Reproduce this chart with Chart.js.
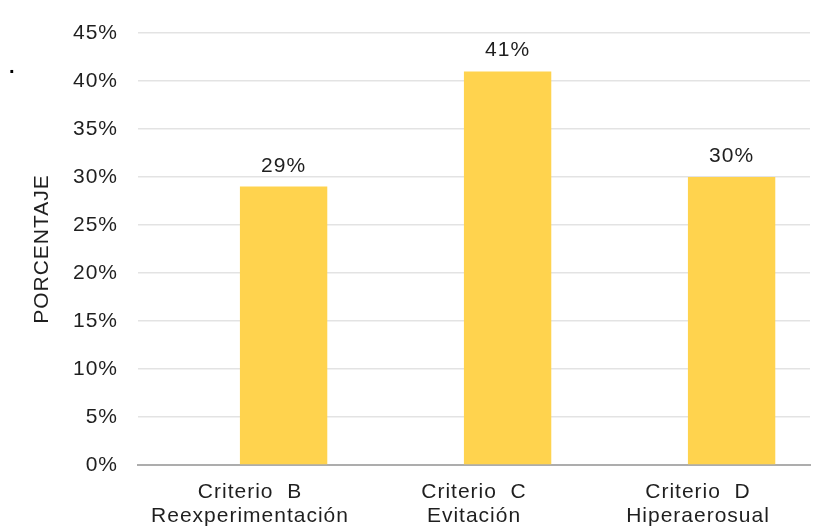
<!DOCTYPE html>
<html>
<head>
<meta charset="utf-8">
<script src="https://cdn.jsdelivr.net/npm/chart.js@4/dist/chart.umd.min.js"></script>
<style>
  html, body { margin: 0; padding: 0; background: #ffffff; }
  #wrap { width: 816px; height: 527px; position: relative; }
</style>
</head>
<body>
<div id="wrap"><canvas id="c" width="816" height="527"></canvas></div>
<script>
// ---- data ----
const categories = [["Criterio  B", "Reexperimentación"], ["Criterio  C", "Evitación"], ["Criterio  D", "Hiperaerosual"]];
const barPositions = [0, 1, 2];
const percentValues = [29, 41, 30];
const yTicks = [0, 5, 10, 15, 20, 25, 30, 35, 40, 45];

const FONT = "'Liberation Sans', Arial, sans-serif";
const TEXT = '#1f1f1f';

const spacingPlugin = {
  id: 'spacing',
  beforeLayout(chart) { chart.ctx.letterSpacing = '1px'; },
  beforeDraw(chart) {
    const ctx = chart.ctx;
    ctx.save();
    ctx.fillStyle = '#ffffff';
    ctx.fillRect(0, 0, chart.width, chart.height);
    ctx.restore();
    ctx.letterSpacing = '1px';
  },
  afterDatasetsDraw(chart) {
    const ctx = chart.ctx;
    const meta = chart.getDatasetMeta(0);
    ctx.save();
    ctx.font = "21px " + FONT;
    ctx.fillStyle = TEXT;
    ctx.textAlign = 'center';
    ctx.textBaseline = 'alphabetic';
    meta.data.forEach((bar, i) => {
      ctx.fillText(percentValues[i] + '%', bar.x, bar.y - 15);
    });
    ctx.font = "bold 20px " + FONT;
    ctx.textAlign = 'left';
    ctx.fillStyle = '#000';
    ctx.fillText('.', 9, 73);
    ctx.restore();
  }
};

new Chart(document.getElementById('c'), {
  type: 'bar',
  data: {
    labels: categories,
    datasets: [{
      data: barPositions.map((x, i) => ({ x: x, y: percentValues[i] })),
      xAxisID: 'xb',
      backgroundColor: '#FFD34E',
      borderWidth: 0,
      barPercentage: 1,
      categoryPercentage: 0.39
    }]
  },
  options: {
    responsive: false,
    animation: false,
    devicePixelRatio: 1,
    parsing: { xAxisKey: 'x', yAxisKey: 'y' },
    layout: { padding: { left: 0, right: 6, top: 33, bottom: 0 } },
    plugins: { legend: { display: false }, tooltip: { enabled: false } },
    scales: {
      x: {
        type: 'category',
        position: 'bottom',
        offset: true,
        grid: { display: false, drawTicks: false },
        border: { display: true, color: '#ADADAD', width: 2 },
        ticks: { color: TEXT, font: { family: FONT, size: 21, lineHeight: 1.15 }, padding: 15, maxRotation: 0, autoSkip: false },
        afterFit(s) { s.height = 62; }
      },
      xb: {
        type: 'linear',
        display: false,
        min: -0.65,
        max: 2.35,
        offset: false,
        afterBuildTicks(s) { s.ticks = barPositions.map(v => ({ value: v })); }
      },
      y: {
        min: 0,
        max: 45,
        afterBuildTicks(s) { s.ticks = yTicks.map(v => ({ value: v })); },
        grid: { color: '#E3E3E3', lineWidth: 1.5, drawTicks: false },
        border: { display: false },
        ticks: { color: TEXT, font: { family: FONT, size: 21 }, padding: 20, callback: v => v + '%' },
        title: { display: true, text: 'PORCENTAJE', color: TEXT, font: { family: FONT, size: 21 }, padding: { top: 30, bottom: 0 } },
        afterFit(s) { s.width = 138; }
      }
    }
  },
  plugins: [spacingPlugin]
});
</script>
</body>
</html>
